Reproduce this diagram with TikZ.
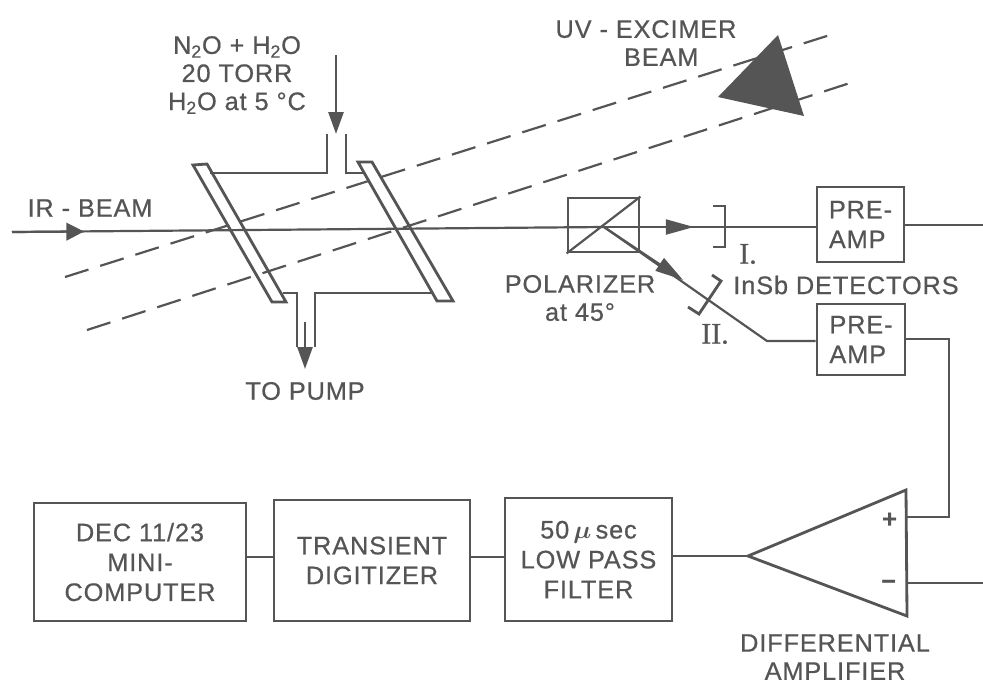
\documentclass[tikz,border=0pt]{standalone}
\usepackage{amsmath}
\usepackage{fontspec}
\setmainfont[LetterSpace=3.5,FakeBold=0.6]{Liberation Sans}
\newfontfamily\romanfont[FakeBold=0.8]{Liberation Serif}
\usetikzlibrary{arrows.meta,calc}
\definecolor{Ink}{HTML}{555555}
\tikzset{
  wire/.style={draw=Ink,line width=1.6pt},
  thinwire/.style={draw=Ink,line width=1.25pt},
  beam/.style={draw=Ink,line width=1.25pt,dash pattern=on 14pt off 7pt},
  flow/.style={draw=Ink,line width=1.6pt,-{Triangle[length=12.5pt,width=8.5pt]}},
  longflow/.style={draw=Ink,line width=1.25pt,-{Triangle[length=16pt,width=8.5pt]}},
  shortflow/.style={draw=Ink,line width=1.25pt,-{Triangle[length=10pt,width=10pt]}},
  label/.style={text=Ink,font=\fontsize{14.4}{16}\selectfont,align=center,inner sep=0},
  blocktext/.style={label,font=\fontsize{14.4}{17}\selectfont},
  blockbox/.style={blocktext,wire,rectangle,inner sep=0},
}
\begin{document}
\begin{tikzpicture}[x=.02cm,y=-.02cm]
\useasboundingbox (0,0) rectangle (983,684);
% excimer beam
\coordinate (beamAa) at (65,277);
\coordinate (beamAb) at (830,35);
\coordinate (beamBa) at (87,330);
\coordinate (beamBb) at (850,83);
\draw[beam] (beamAa) -- (beamAb);
\draw[beam] (beamBa) -- (beamBb);
\fill[Ink] (778,35) -- (804,116) -- (718,97) -- cycle;
\node[label,align=left] (uvlabel) at (646,43) {UV - EXCIMER\\\hspace*{39pt}BEAM};
% gas cell
\draw[wire] (193,165) -- (207,164) -- (286,302) -- (272,302) -- cycle;
\draw[wire] (358,162) -- (372,162) -- (453,301) -- (437,301) -- cycle;
\draw[wire] (210,173) -- (327,173) -- (327,134);
\draw[wire] (346,134) -- (346,173) -- (363,173);
\draw[wire] (283,293) -- (297,293) -- (297,347);
\draw[wire] (315,347) -- (315,293) -- (432,293);
\coordinate (gasin) at (336,55);
\coordinate (gastip) at (336,134);
\draw[flow] (gasin) -- (gastip);
\coordinate (pumpa) at (305,322);
\coordinate (pumpb) at (305,369);
\draw[flow] (pumpa) -- (pumpb);
\node[label] (gaslabel) at (237,75) {N\textsubscript{2}O + H\textsubscript{2}O\\20 TORR\\H\textsubscript{2}O at 5 °C};
\node[label] (pumplabel) at (305,391) {TO PUMP};
% ir beam and polarizer
\node[wire,rectangle,minimum width=1.42cm,minimum height=1.08cm,inner sep=0] (polarizer) at (603.5,225) {};
\draw[thinwire] (polarizer.south west) -- (polarizer.north east);
\node[label] (irlabel) at (90,208) {IR - BEAM};
\node[label] (pollabel) at (580,298) {POLARIZER\\at 45°};
\node[blockbox,minimum width=1.74cm,minimum height=1.5cm,align=left] (preampA) at (860.5,224.5) {PRE-\\AMP};
\node[blockbox,minimum width=1.76cm,minimum height=1.42cm,align=left] (preampB) at (861,339.5) {PRE-\\AMP};
\coordinate (irstart) at (12,232);
\coordinate (irtip) at (84,231.5);
\coordinate (polcentre) at (604,227);
\coordinate (splittip) at (694,227);
\coordinate (difftip) at (683,280);
\coordinate (bend) at (767,341);
\coordinate (outA) at (983,225);
\draw[thinwire] (irstart) -- (polcentre);
\draw[shortflow] (irstart) -- (irtip);
\draw[wire] (polcentre) -- (preampA.west |- polcentre);
\draw[longflow] (polcentre) -- (splittip);
\draw[thinwire] (polcentre) -- (bend) -- (preampB.west |- bend);
\draw[longflow] (polcentre) -- (difftip);
\draw[thinwire] (preampA.east |- outA) -- (outA);
% detectors
\draw[wire] (713,206) -- (725,206) -- (725,247) -- (713,247);
\draw[wire] (712,275) -- (721,281) -- (699,314) -- (688,307);
\node[label,font=\fontsize{17}{17}\romanfont] (detA) at (748,254) {I.};
\node[label,font=\fontsize{17}{17}\romanfont] (detB) at (715,334) {II.};
\node[label] (detlabel) at (846,285) {InSb DETECTORS};
% signal chain
\node[blockbox,minimum width=4.24cm,minimum height=2.36cm] (computer) at (140,562) {DEC 11/23\\MINI-\\COMPUTER};
\node[blockbox,minimum width=3.92cm,minimum height=2.42cm] (digitizer) at (372,560.5) {TRANSIENT\\DIGITIZER};
\node[blockbox,minimum width=3.34cm,minimum height=2.46cm] (filter) at (588.5,559.5) {50\,$\boldsymbol{\mu}$\,sec\\LOW PASS\\FILTER};
\coordinate (chain) at (0,557);
\coordinate (amptip) at (748,556);
\coordinate (amptop) at (906,490);
\coordinate (ampbot) at (907,616);
\coordinate (ampplus) at (907,517);
\coordinate (ampminus) at (907,583);
\coordinate (corner) at (949,339);
\coordinate (outB) at (983,583);
\draw[wire] (amptip) -- (amptop) -- (ampbot) -- cycle;
\draw[wire] (computer.east |- chain) -- (digitizer.west |- chain);
\draw[wire] (digitizer.east |- chain) -- (filter.west |- chain);
\draw[wire] (filter.east |- amptip) -- (amptip);
\draw[wire] (preampB.east |- corner) -- (corner) -- (corner |- ampplus) -- (ampplus);
\draw[thinwire] (ampminus) -- (outB);
\node[label] (plus) at (890,520) {\textbf{+}};
\node[label] (minus) at (889,584) {\textbf{--}};
\node[label] (amplabel) at (835,657) {DIFFERENTIAL\\AMPLIFIER};
\end{tikzpicture}
\end{document}
